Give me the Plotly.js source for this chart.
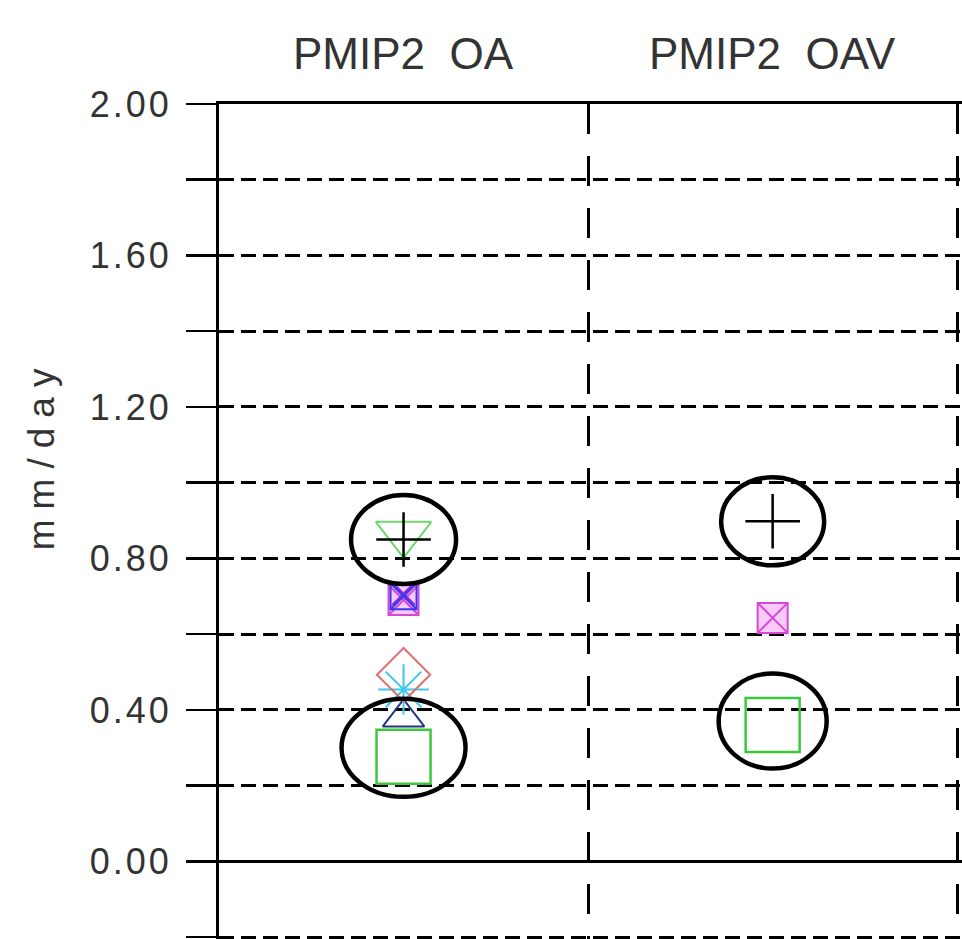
<!DOCTYPE html>
<html><head><meta charset="utf-8">
<script src="https://cdn.plot.ly/plotly-3.0.1.min.js"></script>
<style>
html,body{margin:0;padding:0;background:#fff;}
#chart{width:962px;height:939px;}
.ytick text{letter-spacing:3px;}
.annotation[data-index="2"] text{letter-spacing:10px;}
</style></head><body><div id="chart"></div>
<script>
// ---- data ----
const categories = ["PMIP2\u00a0\u00a0OA", "PMIP2\u00a0\u00a0OAV"];
const yTitle = "mm/day";
const yTickVals = [0, 0.4, 0.8, 1.2, 1.6, 2.0];
const yTickText = ["0.00", "0.40", "0.80", "1.20", "1.60", "2.00"];

const squareGreen   = [0.276, 0.36];
const triUpNavy     = [0.38, null];
const asteriskCyan  = [0.454, null];
const diamondRed    = [0.493, null];
const sqxMagenta    = [0.69, 0.643];
const xPurple       = [0.705, null];
const sqxBlue       = [0.70, null];
const triDownGreen  = [0.865, null];
const plusBlack     = [0.85, 0.898];

// ---- build ----
const xPos = categories.map((c, i) => i + 0.5);

function tr(y, symbol, size, color, lw, fill) {
  return {
    type: 'scatter', mode: 'markers', x: xPos, y: y, hoverinfo: 'y',
    marker: {symbol: symbol, size: size, color: fill || color,
             line: {color: color, width: lw}}
  };
}

const data = [
  tr(squareGreen, 'square-open', 54, '#3cc83c', 2.5),
  tr(triUpNavy, 'triangle-up-open', 36, '#243482', 2),
  tr(asteriskCyan, 'asterisk-open', 42, '#3cc8ec', 2),
  tr(diamondRed, 'diamond-open', 41, '#e07070', 2),
  tr(sqxMagenta, 'square-x', 30, '#d848d8', 2, 'rgba(240,160,240,0.55)'),
  tr(xPurple, 'x-thin-open', 22, '#8a2be2', 3),
  tr(sqxBlue, 'square-x-open', 26, '#3838f0', 2),
  tr(triDownGreen, 'triangle-down-open', 48, '#6fd66f', 2),
  tr(plusBlack, 'cross-thin-open', 39, '#000000', 2.5)
];

// circled markers: [series, category index, width px, height px, shift px]
const circled = [
  [plusBlack, 0, 105, 89, 0],
  [squareGreen, 0, 124, 98, 9],
  [plusBlack, 1, 103, 88, 0],
  [squareGreen, 1, 108, 95, 4]
];
const shapes = circled.map(c => ({
  type: 'circle', xref: 'x', yref: 'y', xsizemode: 'pixel', ysizemode: 'pixel',
  xanchor: xPos[c[1]], yanchor: c[0][c[1]],
  x0: -c[2] / 2, x1: c[2] / 2, y0: c[4] - c[3] / 2, y1: c[4] + c[3] / 2,
  line: {color: '#000', width: 4.5}, layer: 'above'
}));

const annotations = categories.map((c, i) => ({
  text: c, x: xPos[i], xref: 'x', y: 1, yref: 'paper', yanchor: 'bottom',
  yshift: 24, showarrow: false, font: {family: 'Liberation Sans, Arial, sans-serif', size: 44, color: '#333'}
}));
annotations.push({
  text: yTitle, x: 0, xref: 'paper', xshift: -200, y: 0.58, yref: 'paper',
  textangle: -90, showarrow: false,
  font: {family: 'Liberation Sans, Arial, sans-serif', size: 37, color: '#333'}
});

const layout = {
  width: 962, height: 939,
  margin: {l: 219, r: 0, t: 104, b: 0, pad: 0},
  paper_bgcolor: '#fff', plot_bgcolor: '#fff',
  showlegend: false,
  xaxis: {
    range: [0, 2.013], side: 'top', tickvals: [1, 2], showticklabels: false, ticks: '',
    showgrid: true, gridcolor: '#000', gridwidth: 3, griddash: '30px,22px',
    zeroline: false, showline: true, linecolor: '#000', linewidth: 3, fixedrange: true
  },
  yaxis: {
    range: [-0.205, 2.0], tickmode: 'array', tickvals: yTickVals, ticktext: yTickText,
    ticks: 'outside', ticklen: 30, tickwidth: 2.5, tickcolor: '#000', ticklabelstandoff: 7,
    tickfont: {family: 'Liberation Sans, Arial, sans-serif', size: 36, color: '#333'},
    showgrid: true, gridcolor: '#000', gridwidth: 3, griddash: '15px,7px',
    minor: {dtick: 0.2, tick0: 0, ticks: 'outside', ticklen: 30, tickwidth: 2.5, tickcolor: '#000',
            showgrid: true, gridcolor: '#000', gridwidth: 3, griddash: '15px,7px'},
    zeroline: true, zerolinecolor: '#000', zerolinewidth: 3,
    showline: true, linecolor: '#000', linewidth: 3, fixedrange: true
  },
  shapes: shapes,
  annotations: annotations
};

Plotly.newPlot('chart', data, layout, {displayModeBar: false, staticPlot: true});
</script></body></html>
